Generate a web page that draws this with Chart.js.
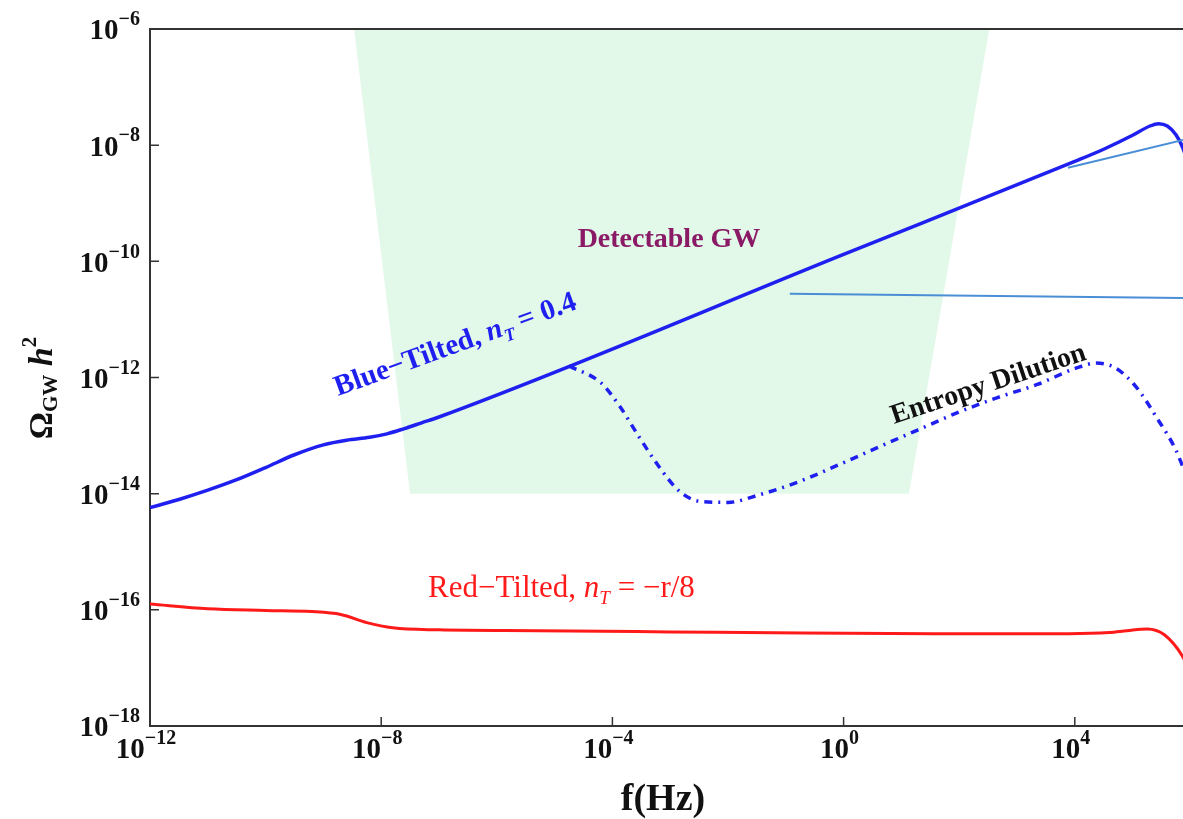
<!DOCTYPE html>
<html>
<head>
<meta charset="utf-8">
<title>Omega_GW h^2 vs f</title>
<script src="https://cdn.jsdelivr.net/npm/chart.js@4/dist/chart.umd.min.js"></script>
<style>
  html, body { margin: 0; padding: 0; background: #fff; overflow: hidden; }
</style>
</head>
<body>
<canvas id="chart" width="1183" height="819"></canvas>
<script>
const CHART = document.getElementById("chart");
const SERIF = "'Liberation Serif', 'Times New Roman', serif";

// tick exponents (powers of ten)
const X_TICKS = [-12, -8, -4, 0, 4];
const Y_TICKS = [-18, -16, -14, -12, -10, -8, -6];

// curves, as log10 f and log10 Omega h^2
const blueLogF = [-12, -11.5, -11, -10.5, -10, -9.5, -9, -8.6, -8.2, -7.9, -7.6, -7.3, -7, 0, 4, 4.5, 5, 5.3, 5.45, 5.6, 5.75, 5.87, 6, 6.2];
const blueLogOmega = [-14.24, -14.1, -13.94, -13.76, -13.55, -13.33, -13.16, -13.08, -13.03, -12.97, -12.88, -12.78, -12.68, -9.88, -8.28, -8.07, -7.83, -7.67, -7.63, -7.67, -7.82, -8.05, -8.45, -9.1];

const dilutionLogF = [-4.75, -4.2, -3.87, -3.54, -3.19, -2.85, -2.5, -2, -1.46, -0.79, -0.1, 0.6, 1.29, 1.96, 2.65, 3.35, 4.02, 4.37, 4.71, 5.06, 5.41, 5.75, 5.87, 6.2];
const dilutionLogOmega = [-11.8, -12.09, -12.5, -13.02, -13.54, -13.95, -14.13, -14.15, -14.02, -13.8, -13.51, -13.2, -12.9, -12.61, -12.35, -12.12, -11.84, -11.75, -11.84, -12.16, -12.68, -13.25, -13.54, -14.3];

const redLogF = [-12, -11, -10, -9.2, -8.7, -8.25, -7.8, -7, -5.3, -3, -0.7, 1.6, 3.9, 4.6, 4.9, 5.25, 5.55, 5.87, 6.1];
const redLogOmega = [-15.9, -15.98, -16.01, -16.03, -16.08, -16.22, -16.31, -16.345, -16.36, -16.38, -16.4, -16.41, -16.41, -16.39, -16.36, -16.33, -16.43, -16.81, -17.3];

// detectable region (corners)
const regionLogF = [-8.47, 2.52, 1.13, -7.5, -8.47];
const regionLogOmega = [-6, -6, -14, -14, -6];

// pointer lines running out to the right
const pointerALogF = [3.88, 6.5];
const pointerALogOmega = [-8.39, -7.76];
const pointerBLogF = [-0.93, 6.5];
const pointerBLogOmega = [-10.56, -10.64];

function toPoints(lx, ly) {
  return lx.map((v, i) => ({ x: Math.pow(10, v), y: Math.pow(10, ly[i]) }));
}

// "10" with a raised exponent
function powLabel(ctx, exp, x, y, align) {
  const base = "10";
  const sup = exp < 0 ? "\u2212" + (-exp) : String(exp);
  const baseFont = "bold 29px " + SERIF;
  const supFont = "bold 20px " + SERIF;
  ctx.font = baseFont;
  const wb = ctx.measureText(base).width;
  ctx.font = supFont;
  const ws = ctx.measureText(sup).width;
  let x0 = align === "right" ? x - wb - ws : x - (wb + ws) / 2;
  ctx.textAlign = "left";
  ctx.textBaseline = "middle";
  ctx.fillStyle = "#111";
  ctx.font = baseFont;
  ctx.fillText(base, x0, y);
  ctx.font = supFont;
  ctx.fillText(sup, x0 + wb, y - 12);
}

// several runs of text on one baseline, optionally rotated
function richText(ctx, parts, x, y, angle, centered) {
  ctx.save();
  ctx.translate(x, y);
  ctx.rotate((angle * Math.PI) / 180);
  ctx.textAlign = "left";
  ctx.textBaseline = "alphabetic";
  let total = 0;
  parts.forEach((p) => {
    ctx.font = p.font;
    total += ctx.measureText(p.text).width;
  });
  let cx = centered ? -total / 2 : 0;
  parts.forEach((p) => {
    ctx.font = p.font;
    ctx.fillStyle = p.color;
    ctx.fillText(p.text, cx, p.dy || 0);
    cx += ctx.measureText(p.text).width;
  });
  ctx.restore();
}

const framePlugin = {
  id: "frame",
  afterDatasetsDraw(chart) {
    const ctx = chart.ctx;
    const { left, right, top, bottom } = chart.chartArea;
    const xs = chart.scales.x;
    const ys = chart.scales.y;

    ctx.save();
    // top edge of the box
    ctx.strokeStyle = "#333";
    ctx.lineWidth = 2;
    ctx.beginPath();
    ctx.moveTo(left - 1, top);
    ctx.lineTo(right, top);
    ctx.stroke();

    // inward ticks
    ctx.lineWidth = 1.5;
    ctx.beginPath();
    Y_TICKS.forEach((e) => {
      const py = ys.getPixelForValue(Math.pow(10, e));
      ctx.moveTo(left, py);
      ctx.lineTo(left + 9, py);
    });
    X_TICKS.forEach((e) => {
      const px = xs.getPixelForValue(Math.pow(10, e));
      ctx.moveTo(px, bottom);
      ctx.lineTo(px, bottom - 9);
    });
    ctx.stroke();

    // tick labels
    Y_TICKS.forEach((e) => {
      powLabel(ctx, e, left - 10, ys.getPixelForValue(Math.pow(10, e)) + 3, "right");
    });
    X_TICKS.forEach((e) => {
      powLabel(ctx, e, xs.getPixelForValue(Math.pow(10, e)) - 4, bottom + 25, "center");
    });

    // axis titles
    ctx.fillStyle = "#111";
    ctx.font = "bold 38px " + SERIF;
    ctx.textAlign = "center";
    ctx.textBaseline = "middle";
    ctx.fillText("f(Hz)", 663, 800);

    richText(ctx, [
      { text: "\u03A9", font: "bold 34px " + SERIF, color: "#111" },
      { text: "GW", font: "bold 21px " + SERIF, color: "#111", dy: 5 },
      { text: " h", font: "bold italic 34px " + SERIF, color: "#111" },
      { text: "2", font: "bold 21px " + SERIF, color: "#111", dy: -16 },
    ], 52, 388, -90, true);

    // curve annotations
    ctx.fillStyle = "#8a1a66";
    ctx.font = "bold 28px " + SERIF;
    ctx.textAlign = "center";
    ctx.textBaseline = "middle";
    ctx.fillText("Detectable GW", 669, 240);

    const blue = "#1f1ff0";
    richText(ctx, [
      { text: "Blue\u2212Tilted, ", font: "bold 29px " + SERIF, color: blue },
      { text: "n", font: "bold italic 29px " + SERIF, color: blue },
      { text: "T", font: "bold italic 18px " + SERIF, color: blue, dy: 7 },
      { text: " = 0.4", font: "bold 29px " + SERIF, color: blue },
    ], 338, 396, -20);

    richText(ctx, [
      { text: "Entropy Dilution", font: "bold 28px " + SERIF, color: "#111" },
    ], 894, 424, -18.5);

    const red = "#ff1a1a";
    richText(ctx, [
      { text: "Red\u2212Tilted, ", font: "31px " + SERIF, color: red },
      { text: "n", font: "italic 31px " + SERIF, color: red },
      { text: "T", font: "italic 19px " + SERIF, color: red, dy: 7 },
      { text: " = \u2212r/8", font: "31px " + SERIF, color: red },
    ], 428, 597, 0);
    ctx.restore();
  },
};

new Chart(CHART, {
  type: "scatter",
  data: {
    datasets: [
      {
        data: toPoints(pointerALogF, pointerALogOmega),
        showLine: true,
        borderColor: "#4a8ed6",
        borderWidth: 2,
        pointRadius: 0,
      },
      {
        data: toPoints(pointerBLogF, pointerBLogOmega),
        showLine: true,
        borderColor: "#4a8ed6",
        borderWidth: 2,
        pointRadius: 0,
      },
      {
        data: toPoints(blueLogF, blueLogOmega),
        showLine: true,
        borderColor: "#1f1ff0",
        borderWidth: 3.5,
        pointRadius: 0,
        cubicInterpolationMode: "monotone",
      },
      {
        data: toPoints(dilutionLogF, dilutionLogOmega),
        showLine: true,
        borderColor: "#1f1ff0",
        borderWidth: 3.5,
        borderDash: [8, 6, 2, 6],
        pointRadius: 0,
        cubicInterpolationMode: "monotone",
      },
      {
        data: toPoints(redLogF, redLogOmega),
        showLine: true,
        borderColor: "#ff1a1a",
        borderWidth: 3,
        pointRadius: 0,
        cubicInterpolationMode: "monotone",
      },
      {
        data: toPoints(regionLogF, regionLogOmega),
        showLine: true,
        borderWidth: 0,
        borderColor: "rgba(0,0,0,0)",
        backgroundColor: "#e2f8e8",
        fill: "shape",
        pointRadius: 0,
      },
    ],
  },
  options: {
    responsive: false,
    animation: false,
    events: [],
    layout: { padding: { left: 150, top: 29, right: 0, bottom: 93 } },
    plugins: { legend: { display: false }, tooltip: { enabled: false } },
    scales: {
      x: {
        type: "logarithmic",
        min: 1e-12,
        max: Math.pow(10, 5.872),
        ticks: { display: false },
        grid: { display: false, drawTicks: false },
        border: { display: true, color: "#333", width: 2 },
      },
      y: {
        type: "logarithmic",
        min: 1e-18,
        max: 1e-6,
        ticks: { display: false },
        grid: { display: false, drawTicks: false },
        border: { display: true, color: "#333", width: 2 },
      },
    },
  },
  plugins: [framePlugin],
});
</script>
</body>
</html>
